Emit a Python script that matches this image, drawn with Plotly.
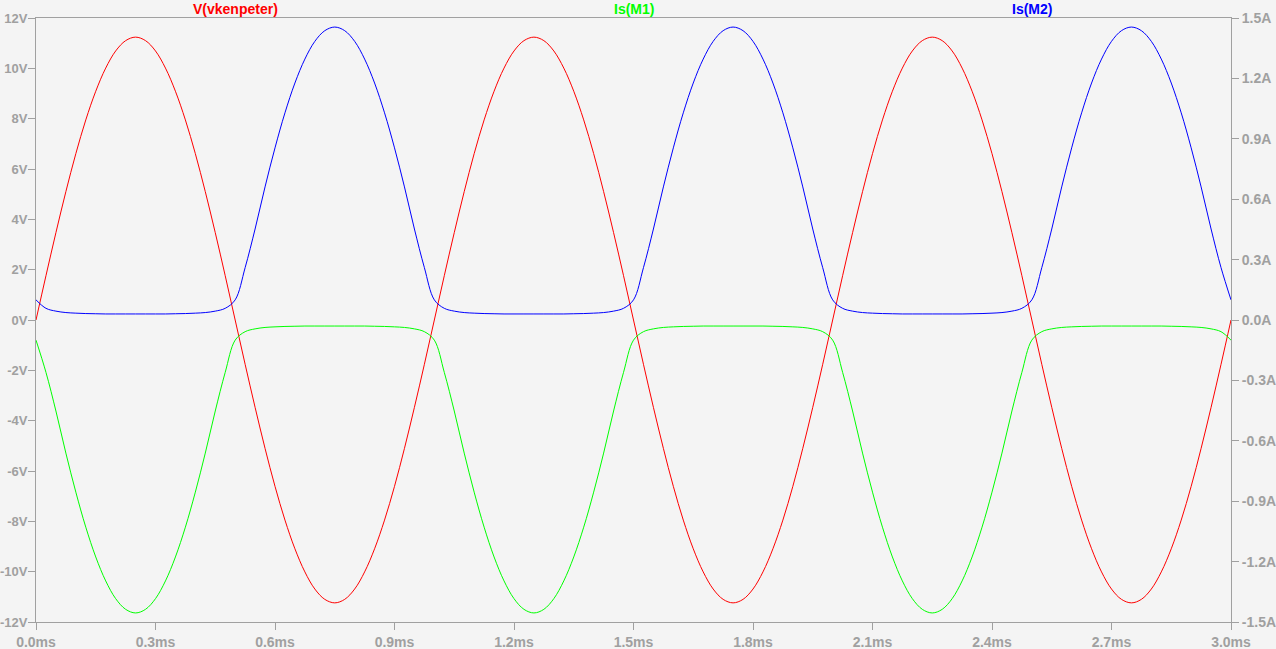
import plotly.graph_objects as go

# time in ms, sampled every 0.025 ms
time_ms = [round(i * 0.025, 3) for i in range(121)]

v_vkenpeter = [
    0.00, 1.76, 3.47, 5.10, 6.61, 7.95, 9.09, 10.01, 10.69, 11.10, 11.24, 11.10, 10.69, 10.01, 9.09, 7.95, 6.61, 5.10, 3.47, 1.76,
    0.00, -1.76, -3.47, -5.10, -6.61, -7.95, -9.09, -10.01, -10.69, -11.10, -11.24, -11.10, -10.69, -10.01, -9.09, -7.95, -6.61, -5.10, -3.47, -1.76,
    0.00, 1.76, 3.47, 5.10, 6.61, 7.95, 9.09, 10.01, 10.69, 11.10, 11.24, 11.10, 10.69, 10.01, 9.09, 7.95, 6.61, 5.10, 3.47, 1.76,
    0.00, -1.76, -3.47, -5.10, -6.61, -7.95, -9.09, -10.01, -10.69, -11.10, -11.24, -11.10, -10.69, -10.01, -9.09, -7.95, -6.61, -5.10, -3.47, -1.76,
    0.00, 1.76, 3.47, 5.10, 6.61, 7.95, 9.09, 10.01, 10.69, 11.10, 11.24, 11.10, 10.69, 10.01, 9.09, 7.95, 6.61, 5.10, 3.47, 1.76,
    0.00, -1.76, -3.47, -5.10, -6.61, -7.95, -9.09, -10.01, -10.69, -11.10, -11.24, -11.10, -10.69, -10.01, -9.09, -7.95, -6.61, -5.10, -3.47, -1.76,
    0.00,
]

is_m1 = [
    -0.100, -0.260, -0.452, -0.661, -0.855, -1.029, -1.177, -1.296, -1.384, -1.437, -1.455, -1.437, -1.384, -1.296, -1.177, -1.029, -0.855, -0.661, -0.452, -0.260,
    -0.100, -0.058, -0.044, -0.037, -0.034, -0.032, -0.031, -0.030, -0.030, -0.030, -0.030, -0.030, -0.030, -0.030, -0.031, -0.032, -0.034, -0.037, -0.044, -0.058,
    -0.100, -0.260, -0.452, -0.661, -0.855, -1.029, -1.177, -1.296, -1.384, -1.437, -1.455, -1.437, -1.384, -1.296, -1.177, -1.029, -0.855, -0.661, -0.452, -0.260,
    -0.100, -0.058, -0.044, -0.037, -0.034, -0.032, -0.031, -0.030, -0.030, -0.030, -0.030, -0.030, -0.030, -0.030, -0.031, -0.032, -0.034, -0.037, -0.044, -0.058,
    -0.100, -0.260, -0.452, -0.661, -0.855, -1.029, -1.177, -1.296, -1.384, -1.437, -1.455, -1.437, -1.384, -1.296, -1.177, -1.029, -0.855, -0.661, -0.452, -0.260,
    -0.100, -0.058, -0.044, -0.037, -0.034, -0.032, -0.031, -0.030, -0.030, -0.030, -0.030, -0.030, -0.030, -0.030, -0.031, -0.032, -0.034, -0.037, -0.044, -0.058,
    -0.100,
]

is_m2 = [
    0.100, 0.058, 0.044, 0.037, 0.034, 0.032, 0.031, 0.030, 0.030, 0.030, 0.030, 0.030, 0.030, 0.030, 0.031, 0.032, 0.034, 0.037, 0.044, 0.058,
    0.100, 0.260, 0.452, 0.661, 0.855, 1.029, 1.177, 1.296, 1.384, 1.437, 1.455, 1.437, 1.384, 1.296, 1.177, 1.029, 0.855, 0.661, 0.452, 0.260,
    0.100, 0.058, 0.044, 0.037, 0.034, 0.032, 0.031, 0.030, 0.030, 0.030, 0.030, 0.030, 0.030, 0.030, 0.031, 0.032, 0.034, 0.037, 0.044, 0.058,
    0.100, 0.260, 0.452, 0.661, 0.855, 1.029, 1.177, 1.296, 1.384, 1.437, 1.455, 1.437, 1.384, 1.296, 1.177, 1.029, 0.855, 0.661, 0.452, 0.260,
    0.100, 0.058, 0.044, 0.037, 0.034, 0.032, 0.031, 0.030, 0.030, 0.030, 0.030, 0.030, 0.030, 0.030, 0.031, 0.032, 0.034, 0.037, 0.044, 0.058,
    0.100, 0.260, 0.452, 0.661, 0.855, 1.029, 1.177, 1.296, 1.384, 1.437, 1.455, 1.437, 1.384, 1.296, 1.177, 1.029, 0.855, 0.661, 0.452, 0.260,
    0.100,
]

x_tickvals = [0.0, 0.3, 0.6, 0.9, 1.2, 1.5, 1.8, 2.1, 2.4, 2.7, 3.0]
x_ticktext = ["0.0ms", "0.3ms", "0.6ms", "0.9ms", "1.2ms", "1.5ms", "1.8ms", "2.1ms", "2.4ms", "2.7ms", "3.0ms"]
v_tickvals = [12, 10, 8, 6, 4, 2, 0, -2, -4, -6, -8, -10, -12]
v_ticktext = ["12V", "10V", "8V", "6V", "4V", "2V", "0V", "-2V", "-4V", "-6V", "-8V", "-10V", "-12V"]
a_tickvals = [1.5, 1.2, 0.9, 0.6, 0.3, 0.0, -0.3, -0.6, -0.9, -1.2, -1.5]
a_ticktext = ["1.5A", "1.2A", "0.9A", "0.6A", "0.3A", "0.0A", "-0.3A", "-0.6A", "-0.9A", "-1.2A", "-1.5A"]

series_names = ["V(vkenpeter)", "Is(M1)", "Is(M2)"]
series_colors = ["#ff0000", "#00ff00", "#0000ff"]

GRAY = "#a0a0a0"
BG = "#f4f4f4"
FONT = "Liberation Sans, Arial, sans-serif"
tickfont = dict(family=FONT, size=14, color=GRAY, weight="bold")
ytickfont = dict(family=FONT, size=13, color=GRAY, weight="bold")

fig = go.Figure()
fig.add_trace(go.Scatter(x=time_ms, y=v_vkenpeter, mode="lines", name=series_names[0],
                         line=dict(color=series_colors[0], width=1, shape="spline"), yaxis="y"))
fig.add_trace(go.Scatter(x=time_ms, y=is_m1, mode="lines", name=series_names[1],
                         line=dict(color=series_colors[1], width=1, shape="spline"), yaxis="y2"))
fig.add_trace(go.Scatter(x=time_ms, y=is_m2, mode="lines", name=series_names[2],
                         line=dict(color=series_colors[2], width=1, shape="spline"), yaxis="y2"))

axis_common = dict(showgrid=False, zeroline=False, showline=True, linecolor=GRAY, linewidth=1,
                   ticks="outside", ticklen=7, tickcolor=GRAY, automargin=False)

fig.update_layout(
    width=1276, height=649,
    margin=dict(l=36, r=45, t=18, b=27, autoexpand=False),
    paper_bgcolor=BG, plot_bgcolor=BG,
    showlegend=False,
    xaxis=dict(range=[0, 3.0], tickvals=x_tickvals, ticktext=x_ticktext, mirror=True,
               tickfont=tickfont, **axis_common),
    yaxis=dict(range=[-12, 12], tickvals=v_tickvals, ticktext=v_ticktext,
               tickfont=ytickfont, ticklabelstandoff=-2, **axis_common),
    yaxis2=dict(range=[-1.5, 1.5], tickvals=a_tickvals, ticktext=a_ticktext,
                overlaying="y", side="right", tickfont=tickfont, **axis_common),
)

label_x = [0.5, 1.5, 2.5]
for name, color, lx in zip(series_names, series_colors, label_x):
    fig.add_annotation(x=lx, xref="x", y=1.0, yref="paper", yanchor="bottom", yshift=-1,
                       text=name, showarrow=False,
                       font=dict(family=FONT, size=14, color=color, weight="bold"))

fig.write_html(
    "out.html",
    config={"displayModeBar": False},
    post_script="document.body.style.margin='0';document.body.style.background='#f4f4f4';document.body.style.overflow='hidden';",
)
